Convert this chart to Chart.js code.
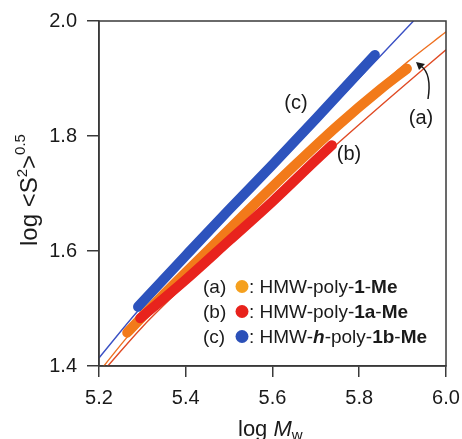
<!DOCTYPE html>
<html>
<head>
<meta charset="utf-8">
<script src="https://cdn.jsdelivr.net/npm/chart.js@4.4.1/dist/chart.umd.min.js"></script>
<style>
  html, body { margin: 0; padding: 0; background: #fff; }
  #wrap { width: 462px; height: 439px; }
</style>
</head>
<body>
<div id="wrap"><canvas id="myChart" width="462" height="439"></canvas></div>
<script>
// measured curves (thick bands), log Mw vs log <S2>^0.5
const mwA = [5.265, 5.35, 5.45, 5.55, 5.65, 5.75, 5.85, 5.91];
const sA  = [1.458, 1.525, 1.600, 1.675, 1.748, 1.818, 1.882, 1.917];
const mwB = [5.295, 5.40, 5.50, 5.60, 5.70, 5.737];
const sB  = [1.483, 1.550, 1.618, 1.686, 1.758, 1.784];
const mwC = [5.29, 5.40, 5.50, 5.60, 5.70, 5.836];
const sC  = [1.503, 1.592, 1.672, 1.750, 1.830, 1.941];

// theoretical curves (thin lines)
const fitMwA = [5.209, 5.267, 5.40, 5.629, 5.80, 5.91, 6.00];
const fitSA  = [1.398, 1.452, 1.560, 1.733, 1.855, 1.928, 1.981];
const fitMwB = [5.218, 5.30, 5.45, 5.60, 5.737, 5.87, 6.00];
const fitSB  = [1.398, 1.468, 1.578, 1.684, 1.778, 1.866, 1.950];
const fitMwC = [5.20, 5.29, 5.45, 5.63, 5.84, 5.925];
const fitSC  = [1.414, 1.496, 1.627, 1.768, 1.932, 2.000];

const xTicks = [5.2, 5.4, 5.6, 5.8, 6.0];
const yTicks = [1.4, 1.6, 1.8, 2.0];

const FONT = "'Liberation Sans', Arial, sans-serif";

function pts(xs, ys) {
    return xs.map((x, i) => ({x: x, y: ys[i]}));
}

function thick(data, color, order) {
    return {
        data: data, borderColor: color, backgroundColor: color,
        borderWidth: 10, borderCapStyle: 'round', borderJoinStyle: 'round',
        pointRadius: 0, showLine: true, cubicInterpolationMode: 'monotone', order: order
    };
}
function thin(data, color) {
    return {
        data: data, borderColor: color, backgroundColor: color,
        borderWidth: 1.4, pointRadius: 0, showLine: true,
        cubicInterpolationMode: 'monotone', order: 5, clip: 0
    };
}

// draws a list of text runs one after the other
function runs(ctx, x, y, parts) {
    parts.forEach(p => {
        ctx.font = p.f;
        ctx.fillText(p.t, x, y + (p.dy || 0));
        x += ctx.measureText(p.t).width;
    });
    return x;
}

const decor = {
    id: 'decor',
    afterDraw(chart) {
        const ctx = chart.ctx, a = chart.chartArea;
        ctx.save();
        // frame
        ctx.strokeStyle = '#3a3a3a';
        ctx.lineWidth = 1.5;
        ctx.strokeRect(a.left, a.top, a.right - a.left, a.bottom - a.top);

        ctx.fillStyle = '#1a1a1a';
        ctx.textBaseline = 'alphabetic';
        const n = '19px ' + FONT, b = 'bold 19px ' + FONT;

        // x title
        runs(ctx, 238, 436, [
            {t: 'log ', f: '22px ' + FONT},
            {t: 'M', f: 'italic 22px ' + FONT},
            {t: 'w', f: '15px ' + FONT, dy: 4}
        ]);

        // y title
        ctx.save();
        ctx.translate(37, 246);
        ctx.rotate(-Math.PI / 2);
        runs(ctx, 0, 0, [
            {t: 'log <S', f: '24px ' + FONT},
            {t: '2', f: '15px ' + FONT, dy: -10},
            {t: '>', f: '24px ' + FONT},
            {t: '0.5', f: '15px ' + FONT, dy: -12}
        ]);
        ctx.restore();

        // curve labels
        ctx.font = '20px ' + FONT;
        ctx.textAlign = 'center';
        ctx.fillText('(c)', 296, 109);
        ctx.fillText('(b)', 349, 160);
        ctx.fillText('(a)', 421, 124);
        ctx.textAlign = 'left';

        // arrow to curve (a)
        ctx.strokeStyle = '#1a1a1a';
        ctx.lineWidth = 1.5;
        ctx.beginPath();
        ctx.moveTo(428, 99);
        ctx.quadraticCurveTo(432, 74, 421, 66);
        ctx.stroke();
        ctx.beginPath();
        ctx.moveTo(416, 62);
        ctx.lineTo(425, 64);
        ctx.lineTo(419, 70);
        ctx.closePath();
        ctx.fill();

        // legend
        const rows = [
            {lab: '(a)', c: '#f5a01e', y: 293, parts: [
                {t: ': HMW-poly-', f: n}, {t: '1', f: b}, {t: '-', f: n}, {t: 'Me', f: b}]},
            {lab: '(b)', c: '#e8221c', y: 318, parts: [
                {t: ': HMW-poly-', f: n}, {t: '1a', f: b}, {t: '-', f: n}, {t: 'Me', f: b}]},
            {lab: '(c)', c: '#2b50b8', y: 343, parts: [
                {t: ': HMW-', f: n}, {t: 'h', f: 'bold italic 19px ' + FONT}, {t: '-poly-', f: n},
                {t: '1b', f: b}, {t: '-', f: n}, {t: 'Me', f: b}]}
        ];
        rows.forEach(r => {
            ctx.fillStyle = '#1a1a1a';
            runs(ctx, 203, r.y, [{t: r.lab, f: n}]);
            ctx.fillStyle = r.c;
            ctx.beginPath();
            ctx.arc(242, r.y - 6.5, 6.5, 0, Math.PI * 2);
            ctx.fill();
            ctx.fillStyle = '#1a1a1a';
            runs(ctx, 249, r.y, r.parts);
        });
        ctx.restore();
    }
};

const ctx = document.getElementById('myChart').getContext('2d');
const myChart = new Chart(ctx, {
    type: 'scatter',
    data: {
        datasets: [
            thick(pts(mwB, sB), '#e8231d', 1),
            thick(pts(mwA, sA), '#f27a1a', 2),
            thick(pts(mwC, sC), '#2d53bd', 3),
            thin(pts(fitMwA, fitSA), '#ee7020'),
            thin(pts(fitMwB, fitSB), '#e04a24'),
            thin(pts(fitMwC, fitSC), '#3a50c4')
        ]
    },
    options: {
        responsive: false,
        animation: false,
        events: [],
        layout: { padding: { top: 21, right: 16, left: 0, bottom: 0 } },
        plugins: { legend: { display: false }, tooltip: { enabled: false } },
        scales: {
            x: {
                type: 'linear', min: 5.2, max: 6.0,
                afterBuildTicks: s => { s.ticks = xTicks.map(v => ({value: v})); },
                afterFit: s => { s.height = 73; s.paddingLeft = 0; s.paddingRight = 0; },
                ticks: {
                    color: '#1a1a1a', padding: 9,
                    font: { family: FONT, size: 20 },
                    callback: v => v.toFixed(1)
                },
                grid: { drawOnChartArea: false, drawTicks: true, tickLength: 11, color: '#3a3a3a', lineWidth: 1.5 },
                border: { color: '#3a3a3a', width: 1.5 }
            },
            y: {
                type: 'linear', min: 1.4, max: 2.0,
                afterBuildTicks: s => { s.ticks = yTicks.map(v => ({value: v})); },
                afterFit: s => { s.width = 99; s.paddingTop = 0; s.paddingBottom = 0; },
                ticks: {
                    color: '#1a1a1a', padding: 10,
                    font: { family: FONT, size: 20 },
                    callback: v => v.toFixed(1)
                },
                grid: { drawOnChartArea: false, drawTicks: true, tickLength: 12, color: '#3a3a3a', lineWidth: 1.5 },
                border: { color: '#3a3a3a', width: 1.5 }
            }
        }
    },
    plugins: [decor]
});
</script>
</body>
</html>
